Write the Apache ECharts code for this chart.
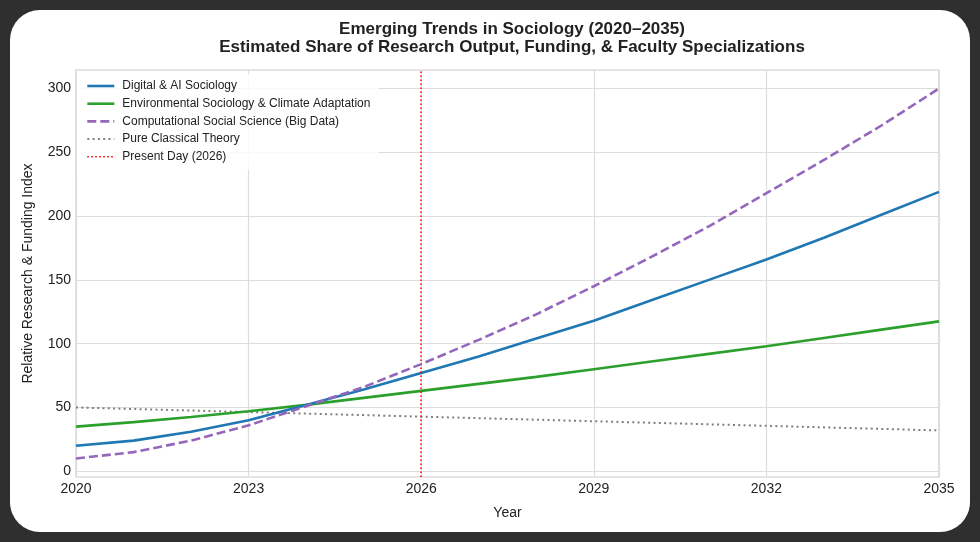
<!DOCTYPE html>
<html>
<head>
<meta charset="utf-8">
<script src="https://cdn.jsdelivr.net/npm/echarts@6/dist/echarts.min.js"></script>
<style>
    html, body { margin: 0; padding: 0; background: #2f2f2f; }
    #card { position: absolute; left: 10px; top: 10px; width: 960px; height: 522px; background: #fff; border-radius: 30px; }
    #chart { position: absolute; left: 0; top: 0; width: 980px; height: 542px; }
</style>
</head>
<body>
<div id="card"></div>
<div id="chart"></div>
<script>
    // years on the x axis
    const years = [2020, 2021, 2022, 2023, 2024, 2025, 2026, 2027, 2028, 2029, 2030, 2031, 2032, 2033, 2034, 2035];
    // series values
    const digitalAI = [20, 24, 31, 40, 52, 64, 77, 90, 104, 118, 134, 150, 166, 183, 201, 219];
    const environmental = [35, 38.5, 42.5, 47, 52, 57.5, 63, 68.5, 74, 80, 86, 92, 98, 104.5, 111, 117.5];
    const computational = [10, 15, 24, 36, 51, 66, 84, 103, 123, 145, 168, 192, 218, 244, 271, 300];
    const classical = [50, 48.8, 47.6, 46.4, 45.2, 44, 42.8, 41.6, 40.4, 39.2, 38, 36.8, 35.6, 34.4, 33.2, 32];
    const presentYear = 2026;
    // tick labels of the y axis
    const yTicks = [0, 50, 100, 150, 200, 250, 300];

    const pairs = (vals) => years.map((y, i) => [y, vals[i]]);

    // line styles shared by series and legend
    const styles = {
        digital: { color: '#1f77b4', width: 2.6 },
        env: { color: '#2ca02c', width: 2.6 },
        comp: { color: '#9467bd', width: 2.6, type: [9, 4] },
        classic: { color: '#7f7f7f', width: 2, type: [2, 3.3] },
        present: { color: '#ff0000', width: 1.5, type: [1.5, 2.5] }
    };

    let myChart = echarts.init(document.getElementById('chart'));
    myChart.setOption({
        animation: false,
        backgroundColor: 'transparent',
        textStyle: { fontFamily: 'Liberation Sans, Arial, sans-serif' },
        title: {
            text: 'Emerging Trends in Sociology (2020\u20132035)\nEstimated Share of Research Output, Funding, & Faculty Specializations',
            left: 507,
            textAlign: 'center',
            top: 15,
            textStyle: { fontSize: 17, fontWeight: 'bold', color: '#222', lineHeight: 18.5 }
        },
        grid: { left: 76, right: 41, top: 70, bottom: 65, show: true, borderColor: '#cccccc', borderWidth: 1.2 },
        legend: {
            orient: 'vertical',
            left: 77,
            top: 74,
            padding: [4, 8, 5, 9],
            itemWidth: 27,
            itemHeight: 14,
            itemGap: 1.7,
            backgroundColor: 'rgba(255,255,255,0.85)',
            itemStyle: { opacity: 0 },
            textStyle: { fontSize: 12, color: '#222', padding: [0, 0, 0, 3], lineHeight: 16 },
            data: [
                { name: 'Digital & AI Sociology', lineStyle: styles.digital },
                { name: 'Environmental Sociology & Climate Adaptation', lineStyle: styles.env },
                { name: 'Computational Social Science (Big Data)', lineStyle: styles.comp },
                { name: 'Pure Classical Theory', lineStyle: styles.classic },
                { name: 'Present Day (2026)', lineStyle: styles.present }
            ]
        },
        xAxis: {
            type: 'value',
            min: 2020,
            max: 2035,
            interval: 3,
            name: 'Year',
            nameLocation: 'middle',
            nameGap: 29,
            nameTextStyle: { fontSize: 14, color: '#222' },
            axisLine: { show: false },
            axisTick: { show: false },
            axisLabel: { fontSize: 14, color: '#222', margin: 5, formatter: (v) => String(v) },
            splitLine: { lineStyle: { color: '#dddddd', width: 1.2 } }
        },
        yAxis: {
            type: 'value',
            min: -4.5,
            max: 314.5,
            name: 'Relative Research & Funding Index',
            nameLocation: 'middle',
            nameGap: 41,
            nameTextStyle: { fontSize: 14, color: '#222' },
            axisLine: { show: false },
            axisTick: { show: false, customValues: yTicks },
            axisLabel: { fontSize: 14, color: '#222', margin: 5, customValues: yTicks },
            splitLine: { lineStyle: { color: '#dddddd', width: 1.2 } }
        },
        series: [
            {
                name: 'Digital & AI Sociology',
                type: 'line',
                data: pairs(digitalAI),
                symbol: 'none',
                lineStyle: styles.digital,
                itemStyle: { color: styles.digital.color },
                z: 4
            },
            {
                name: 'Environmental Sociology & Climate Adaptation',
                type: 'line',
                data: pairs(environmental),
                symbol: 'none',
                lineStyle: styles.env,
                itemStyle: { color: styles.env.color },
                z: 3
            },
            {
                name: 'Computational Social Science (Big Data)',
                type: 'line',
                data: pairs(computational),
                symbol: 'none',
                lineStyle: styles.comp,
                itemStyle: { color: styles.comp.color },
                z: 5
            },
            {
                name: 'Pure Classical Theory',
                type: 'line',
                data: pairs(classical),
                symbol: 'none',
                lineStyle: styles.classic,
                itemStyle: { color: styles.classic.color },
                z: 2
            },
            {
                name: 'Present Day (2026)',
                type: 'line',
                data: [],
                symbol: 'none',
                lineStyle: styles.present,
                itemStyle: { color: styles.present.color },
                markLine: {
                    silent: true,
                    symbol: 'none',
                    label: { show: false },
                    lineStyle: styles.present,
                    data: [{ xAxis: presentYear }]
                }
            }
        ]
    });
</script>
</body>
</html>
